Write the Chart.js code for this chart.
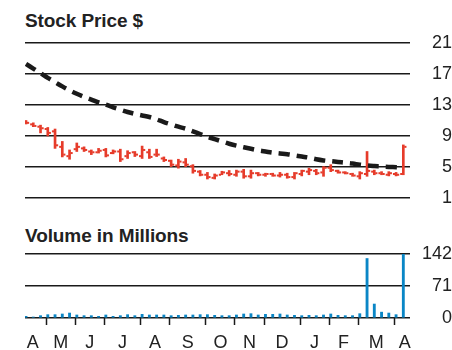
<!DOCTYPE html>
<html>
<head>
<meta charset="utf-8">
<script src="https://cdn.jsdelivr.net/npm/chart.js@4.4.1/dist/chart.umd.min.js"></script>
<style>
  html, body { margin: 0; padding: 0; background: #fff; }
  #wrap { position: relative; width: 452px; height: 350px; overflow: hidden; }
  canvas { position: absolute; left: 0; top: 0; }
  .ttl { position: absolute; left: 25px; font: bold 19px "Liberation Sans", Arial, sans-serif;
         line-height: 20px; color: #222; white-space: nowrap; letter-spacing: -0.1px; }
</style>
</head>
<body>
<div id="wrap">
  <div class="ttl" style="top:11px">Stock Price $</div>
  <div class="ttl" style="top:226px">Volume in Millions</div>
  <canvas id="price" width="452" height="350"></canvas>
  <canvas id="volume" width="452" height="350"></canvas>
</div>
<script>
// Weekly prices, April to April (53 weeks)
const priceHigh  = [11.0,10.7,10.4,10.1,9.9,8.3,7.2,8.1,7.6,7.2,7.4,7.4,7.2,7.3,7.1,7.0,7.7,7.3,7.3,6.3,5.9,6.0,6.1,5.3,4.55,4.3,4.1,4.45,4.55,4.6,4.7,4.6,4.3,4.2,4.2,4.3,4.2,4.3,4.6,4.85,4.7,5.05,5.3,4.6,4.4,4.2,4.4,7.0,4.6,4.4,4.4,4.3,7.85];
const priceLow   = [10.55,10.2,9.4,9.0,7.4,6.3,6.0,7.0,7.0,6.6,6.8,6.3,6.7,5.7,6.1,6.35,6.1,6.1,6.35,5.7,5.05,4.85,5.05,4.2,3.85,3.45,3.45,4.0,3.85,3.8,3.55,3.55,3.85,3.8,3.8,3.7,3.55,3.45,3.85,4.0,4.0,3.8,4.4,4.2,4.1,3.8,3.45,3.8,4.0,4.0,3.85,3.85,4.0];
const priceOpen  = [10.9,10.5,10.2,9.9,9.6,7.6,6.4,7.3,7.4,7.0,6.9,7.2,6.8,7.0,6.4,6.9,6.4,6.9,6.6,6.1,5.8,5.2,5.6,5.1,4.4,4.0,3.6,4.0,4.2,4.0,4.4,3.8,4.2,4.0,4.1,3.9,4.0,3.7,4.1,4.4,4.5,4.3,4.9,4.5,4.3,4.1,3.8,4.1,4.4,4.2,4.0,4.1,4.1];
const priceClose = [10.7,10.3,10.0,9.4,7.8,6.6,6.8,7.6,7.2,6.9,7.1,6.5,7.0,6.0,6.8,6.6,7.2,6.3,6.6,5.9,5.3,5.7,5.3,4.5,4.0,3.7,3.9,4.3,4.1,4.4,3.8,4.2,4.0,4.1,3.9,4.0,3.7,4.2,4.5,4.6,4.2,4.9,4.6,4.3,4.2,3.9,4.2,4.5,4.2,4.1,4.2,4.0,7.6];
// Long-term moving average
const movingAvg  = [18.3,17.7,17.1,16.5,15.95,15.4,14.9,14.45,14.05,13.7,13.35,13.05,12.7,12.4,12.1,11.85,11.65,11.45,11.15,10.8,10.5,10.2,9.95,9.6,9.25,8.9,8.6,8.3,8.0,7.75,7.55,7.35,7.15,7.0,6.85,6.75,6.65,6.5,6.35,6.2,6.0,5.85,5.75,5.65,5.55,5.45,5.3,5.2,5.12,5.05,5.0,4.98,4.95];
// Weekly volume, millions of shares
const volume     = [3.7,2.2,5.2,7.4,7.4,8.9,11,6.7,5.2,5.2,3.7,6.7,3.7,5.2,7.4,5.2,8.1,6.7,6.7,6.7,5.2,5.9,6.7,6.7,7.4,7.4,5.9,5.2,5.2,6.7,8.9,9.6,6.7,8.1,8.1,8.9,6.7,5.9,5.2,5.9,5.2,6.7,8.9,5.9,5.2,5.2,9.6,132,31,13,11,7.4,142];

const priceTicks  = [1, 5, 9, 13, 17, 21];
const volumeTicks = [0, 71, 142];
const monthLabels = ['A','M','J','J','A','S','O','N','D','J','F','M','A'];
// month edges measured in weeks from the first bar
const monthEdges  = [-0.9, 2.77, 6.78, 10.78, 15.8, 19.77, 24.8, 28.8, 32.8, 37.77, 41.77, 45.77, 50.8, 53.6];

const X_MIN = -0.14, X_MAX = 52.92;
const RED = '#e63b2a', BLUE = '#0a86c6', INK = '#1a1a1a';
const tickFont = { family: '"Liberation Sans", Arial, sans-serif', size: 18 };

const xy = (arr, dx = 0) => arr.map((v, i) => ({ x: i + dx, y: v }));
const tickMark = (data, dx) => ({
  type: 'line', data: xy(data, dx), showLine: false, order: 2,
  pointStyle: 'line', pointRadius: 1.1, pointHoverRadius: 1.1,
  pointBorderWidth: 2, pointBorderColor: RED, pointBackgroundColor: RED
});

new Chart(document.getElementById('price'), {
  type: 'bar',
  data: {
    datasets: [
      { type: 'line', data: xy(movingAvg), borderColor: INK, borderWidth: 4.5,
        borderDash: [11, 7], borderCapStyle: 'butt', tension: 0.4,
        pointRadius: 0, fill: false, order: 0 },
      { type: 'bar', data: priceHigh.map((h, i) => ({ x: i, y: [priceLow[i], h] })),
        backgroundColor: RED, barThickness: 2, order: 1 },
      tickMark(priceOpen, -0.28),
      tickMark(priceClose, 0.28)
    ]
  },
  options: {
    responsive: false, animation: false, events: [],
    layout: { padding: { top: 43, bottom: 152, left: 25, right: 0 } },
    plugins: { legend: { display: false }, tooltip: { enabled: false } },
    scales: {
      x: { type: 'linear', min: X_MIN, max: X_MAX, offset: false, display: false,
           grid: { offset: false } },
      y: { position: 'right', min: 1, max: 21,
           afterBuildTicks: s => { s.ticks = priceTicks.map(v => ({ value: v })); },
           afterFit: s => { s.width = 42; },
           ticks: { padding: 19, crossAlign: 'far', font: tickFont, color: '#222' },
           grid: { color: INK, lineWidth: 1.5, drawTicks: false },
           border: { display: false } }
    }
  }
});

new Chart(document.getElementById('volume'), {
  type: 'bar',
  data: {
    datasets: [
      { data: xy(volume), backgroundColor: BLUE, barThickness: 2.2 }
    ]
  },
  options: {
    responsive: false, animation: false, events: [],
    layout: { padding: { top: 254, bottom: 0, left: 25, right: 0 } },
    plugins: { legend: { display: false }, tooltip: { enabled: false } },
    scales: {
      x: { type: 'linear', min: X_MIN, max: X_MAX, offset: false,
           afterBuildTicks: s => {
             const t = [];
             monthEdges.forEach(e => { if (e > X_MIN && e < X_MAX) t.push({ value: e, lab: '' }); });
             monthLabels.forEach((m, k) => t.push({ value: (monthEdges[k] + monthEdges[k + 1]) / 2, lab: m }));
             t.sort((a, b) => a.value - b.value);
             s.ticks = t;
           },
           afterFit: s => { s.height = 32; },
           ticks: { autoSkip: false, maxRotation: 0, padding: 7, font: tickFont, color: '#222',
                    callback: (v, i, ticks) => ticks[i].lab },
           grid: { drawOnChartArea: false, drawTicks: true, tickLength: 7, tickWidth: 1.5,
                   offset: false,
                   tickColor: c => (c.tick && c.tick.lab) ? 'rgba(0,0,0,0)' : INK },
           border: { display: false } },
      y: { position: 'right', min: 0, max: 142,
           afterBuildTicks: s => { s.ticks = volumeTicks.map(v => ({ value: v })); },
           afterFit: s => { s.width = 42; },
           ticks: { padding: 9, crossAlign: 'far', font: tickFont, color: '#222' },
           grid: { color: INK, lineWidth: 1.5, drawTicks: false },
           border: { display: false } }
    }
  }
});
</script>
</body>
</html>
